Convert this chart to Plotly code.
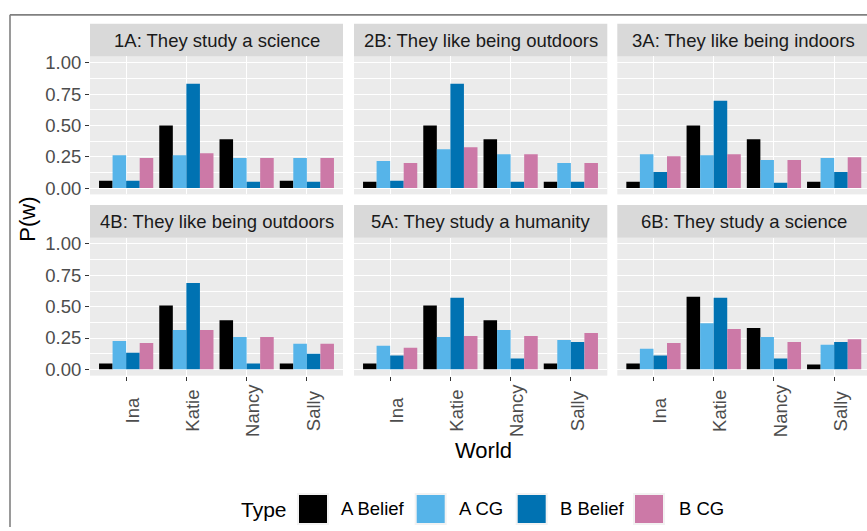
import plotly.graph_objects as go

W, H = 867, 531
FONT = "Liberation Sans, Arial, Helvetica, sans-serif"

worlds = ["Ina", "Katie", "Nancy", "Sally"]
types = ["A Belief", "A CG", "B Belief", "B CG"]
type_colors = ["#000000", "#56B4E9", "#0072B2", "#CC79A7"]
panel_titles = [
    "1A: They study a science",
    "2B: They like being outdoors",
    "3A: They like being indoors",
    "4B: They like being outdoors",
    "5A: They study a humanity",
    "6B: They study a science",
]

# values per panel: A Belief, A CG, B Belief, B CG (over worlds)
p1_a_belief = [0.058, 0.50, 0.389, 0.058]
p1_a_cg = [0.263, 0.263, 0.240, 0.240]
p1_b_belief = [0.058, 0.832, 0.050, 0.050]
p1_b_cg = [0.240, 0.279, 0.240, 0.240]

p2_a_belief = [0.050, 0.50, 0.389, 0.050]
p2_a_cg = [0.216, 0.310, 0.271, 0.200]
p2_b_belief = [0.058, 0.832, 0.050, 0.050]
p2_b_cg = [0.200, 0.326, 0.271, 0.200]

p3_a_belief = [0.050, 0.50, 0.389, 0.050]
p3_a_cg = [0.271, 0.263, 0.224, 0.240]
p3_b_belief = [0.129, 0.697, 0.042, 0.129]
p3_b_cg = [0.255, 0.271, 0.224, 0.247]

p4_a_belief = [0.047, 0.509, 0.392, 0.047]
p4_a_cg = [0.227, 0.313, 0.258, 0.204]
p4_b_belief = [0.133, 0.689, 0.047, 0.125]
p4_b_cg = [0.211, 0.313, 0.258, 0.204]

p5_a_belief = [0.047, 0.509, 0.392, 0.047]
p5_a_cg = [0.188, 0.258, 0.313, 0.235]
p5_b_belief = [0.110, 0.572, 0.086, 0.219]
p5_b_cg = [0.172, 0.266, 0.266, 0.290]

p6_a_belief = [0.047, 0.580, 0.329, 0.039]
p6_a_cg = [0.164, 0.368, 0.258, 0.196]
p6_b_belief = [0.110, 0.572, 0.086, 0.219]
p6_b_cg = [0.211, 0.321, 0.219, 0.240]

panels = [
    [p1_a_belief, p1_a_cg, p1_b_belief, p1_b_cg],
    [p2_a_belief, p2_a_cg, p2_b_belief, p2_b_cg],
    [p3_a_belief, p3_a_cg, p3_b_belief, p3_b_cg],
    [p4_a_belief, p4_a_cg, p4_b_belief, p4_b_cg],
    [p5_a_belief, p5_a_cg, p5_b_belief, p5_b_cg],
    [p6_a_belief, p6_a_cg, p6_b_belief, p6_b_cg],
]

y_tickvals = [0, 0.25, 0.5, 0.75, 1.0]
y_ticktext = ["0.00", "0.25", "0.50", "0.75", "1.00"]


def px_x(p):
    return p / W


def px_y(p):
    return 1 - p / H


# layout geometry (pixels)
col_px = [(90, 343), (354, 607.3), (617.3, 867)]
row_px = [(53.3, 193.3), (237.3, 377.3)]
strip_px = [(20, 53.3), (204, 237.3)]
unit_px = (343 - 90) / 4.2

fig = go.Figure()
layout = dict(
    width=W, height=H,
    margin=dict(l=0, r=0, t=0, b=0),
    paper_bgcolor="white", plot_bgcolor="#EBEBEB",
    barmode="group", bargap=0.1, bargroupgap=0,
    showlegend=False, hovermode=False,
    font=dict(family=FONT, color="#4D4D4D", size=18),
)
shapes = []
annotations = []

for i in range(6):
    r, c = divmod(i, 3)
    ax = "" if i == 0 else str(i + 1)
    for t in range(4):
        fig.add_trace(go.Bar(
            x=worlds, y=panels[i][t], name=types[t],
            marker=dict(color=type_colors[t], line=dict(width=0)),
            xaxis="x" + ax, yaxis="y" + ax,
        ))
    x0p, x1p = col_px[c]
    y0p, y1p = row_px[r]
    xr = [-0.6, -0.6 + (x1p - x0p) / unit_px]
    layout["xaxis" + ax] = dict(
        domain=[px_x(x0p), px_x(x1p)], anchor="y" + ax, range=xr,
        type="category", categoryorder="array", categoryarray=worlds,
        showgrid=True, gridcolor="white", gridwidth=1.1, zeroline=False,
        showline=False, showticklabels=False,
        ticks="outside" if r == 1 else "", ticklen=4, tickcolor="#333333", tickwidth=1.1,
    )
    layout["yaxis" + ax] = dict(
        domain=[px_y(y1p), px_y(y0p)], anchor="x" + ax, range=[-0.05, 1.05],
        tickvals=y_tickvals, ticktext=y_ticktext,
        showgrid=True, gridcolor="white", gridwidth=1.1, zeroline=False,
        showline=False, showticklabels=(c == 0),
        ticks="outside" if c == 0 else "", ticklen=4, tickcolor="#333333", tickwidth=1.1,
        tickfont=dict(size=18.5, color="#4D4D4D"),
        minor=dict(dtick=0.125, tick0=0, showgrid=True, gridcolor="white", gridwidth=0.5),
    )
    # strip
    s0, s1 = strip_px[r]
    shapes.append(dict(type="rect", xref="paper", yref="paper",
                       x0=px_x(x0p), x1=px_x(x1p), y0=px_y(s1), y1=px_y(s0),
                       fillcolor="#D9D9D9", line=dict(width=0), layer="below"))
    annotations.append(dict(text=panel_titles[i], xref="paper", yref="paper",
                            x=px_x((x0p + x0p + 253) / 2), y=px_y((s0 + s1) / 2),
                            xanchor="center", yanchor="middle", showarrow=False,
                            font=dict(size=18.5, color="#1A1A1A")))
    # x tick labels on bottom row
    if r == 1:
        for w in worlds:
            annotations.append(dict(text=w, xref="x" + ax, yref="paper",
                                    x=w, y=px_y(413), textangle=-90,
                                    xanchor="left", yanchor="middle", xshift=-6,
                                    showarrow=False,
                                    font=dict(size=18.5, color="#4D4D4D")))

# axis titles
annotations.append(dict(text="World", xref="paper", yref="paper", x=px_x(483), y=px_y(453),
                        xanchor="center", yanchor="middle", showarrow=False,
                        font=dict(size=22, color="black")))
annotations.append(dict(text="P(w)", xref="paper", yref="paper", x=px_x(28), y=px_y(218),
                        xanchor="center", yanchor="middle", showarrow=False, textangle=-90,
                        font=dict(size=22, color="black")))

# legend (manual)
annotations.append(dict(text="Type", xref="paper", yref="paper", x=px_x(239), y=px_y(513),
                        xanchor="left", yanchor="middle", showarrow=False,
                        font=dict(size=21, color="black")))
key_x = [298, 415.7, 516.7, 634]
label_x = [339, 457, 558, 677]
for t in range(4):
    shapes.append(dict(type="rect", xref="paper", yref="paper",
                       x0=px_x(key_x[t]), x1=px_x(key_x[t] + 30),
                       y0=px_y(528), y1=px_y(497.5),
                       fillcolor=type_colors[t], line=dict(color="#F2F2F2", width=2)))
    annotations.append(dict(text=types[t], xref="paper", yref="paper", x=px_x(label_x[t]),
                            y=px_y(512.5), xanchor="left", yanchor="middle", showarrow=False,
                            font=dict(size=18.5, color="black")))

# outer frame
shapes.append(dict(type="line", xref="paper", yref="paper", x0=px_x(10), x1=1,
                   y0=px_y(11), y1=px_y(11), line=dict(color="#808080", width=1.6)))
shapes.append(dict(type="line", xref="paper", yref="paper", x0=px_x(10), x1=px_x(10),
                   y0=px_y(11), y1=0, line=dict(color="#808080", width=1.6)))

layout["shapes"] = shapes
layout["annotations"] = annotations
fig.update_layout(**layout)
fig.write_html(
    "out.html",
    config={"displayModeBar": False},
    post_script="document.body.style.margin='0px';document.body.style.overflow='hidden';",
)
